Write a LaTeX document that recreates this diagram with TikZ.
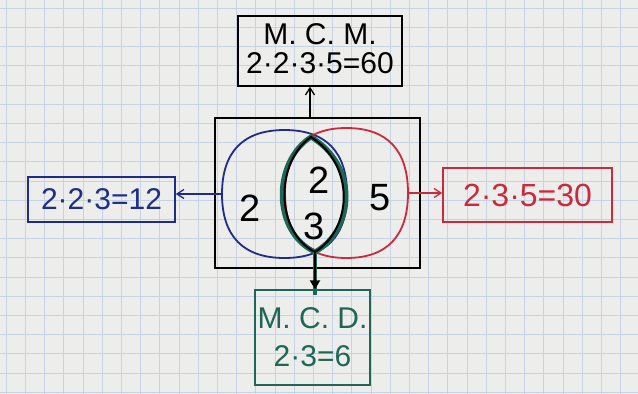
\documentclass[tikz,border=0pt]{standalone}
\usepackage{fontspec}
\setmainfont{Liberation Sans}
\usetikzlibrary{arrows.meta}
\definecolor{paper}{HTML}{EDEDEB}
\definecolor{gridc}{HTML}{C6D3E6}
\definecolor{setblue}{HTML}{1E2C8C}
\definecolor{setred}{HTML}{CC2A3C}
\definecolor{teal}{HTML}{1F6657}
\tikzset{
  box/.style={draw, line width=1.5pt, inner sep=0pt},
  setline/.style={line width=1.8pt},
  big/.style={font=\fontsize{38}{40}\selectfont},
  mid/.style={font=\fontsize{30}{32}\selectfont},
  conn/.style={line width=1.3pt, -{Straight Barb[length=7pt,width=9pt]}},
}
% squircle: #1 cx, #2 cy, #3 half width, #4 half height
\newcommand\squircle[4]{%
  (#1,#2-#4) .. controls (#1+0.66*#3,#2-#4) and (#1+#3,#2-0.66*#4) ..
  (#1+#3,#2) .. controls (#1+#3,#2+0.66*#4) and (#1+0.66*#3,#2+#4) ..
  (#1,#2+#4) .. controls (#1-0.66*#3,#2+#4) and (#1-#3,#2+0.66*#4) ..
  (#1-#3,#2) .. controls (#1-#3,#2-0.66*#4) and (#1-0.66*#3,#2-#4) .. cycle}
\begin{document}
\begin{tikzpicture}[x=1pt,y=-1pt]
\useasboundingbox (0,0) rectangle (638,394);
\fill[paper] (0,0) rectangle (638,394);
\draw[gridc, line width=0.6pt, step=19.2pt, shift={(6pt,-8pt)}] (-6,-10) grid (640,400);
% main frame
\node[box, minimum width=205pt, minimum height=150pt] (frame) at (317.5,193) {};
% sets
\draw[setline, setblue] \squircle{284.5}{194}{62.5}{64};
\draw[setline, setred] \squircle{346.5}{193}{61.5}{65};
\coordinate (lW) at (222,194);
\coordinate (rE) at (408,193);
% lens (intersection)
\coordinate (lensTop) at (311,137);
\coordinate (lensBot) at (315,252);
\draw[teal, line width=5pt] (lensTop) .. controls (358,165) and (356,228) .. (lensBot) .. controls (272,232) and (272,162) .. cycle;
\draw[black, line width=2pt, line join=round] (lensTop) .. controls (355,165) and (353,228) .. (lensBot) .. controls (275,232) and (275,162) .. cycle;
% numbers
\node[big] (n2) at (250,208) {2};
\node[big] (c2) at (319,180) {2};
\node[big] (c3) at (314,226) {3};
\node[big] (n5) at (380,198) {5};
% boxes
\node[box, minimum width=164pt, minimum height=70pt] (mcm) at (320,51) {};
\node[mid] (mcmA) at (320,34) {M. C. M.};
\node[mid] (mcmB) at (320,63) {2·2·3·5=60};
\node[box, setblue, minimum width=147pt, minimum height=45pt, mid, text=setblue] (b12) at (101.5,199.5) {2·2·3=12};
\node[box, setred, minimum width=169pt, minimum height=54pt, text=setred, font=\fontsize{32}{34}\selectfont] (b30) at (527.5,195) {2·3·5=30};
\node[box, teal, minimum width=115pt, minimum height=95pt, mid, text=teal, align=center] (mcd) at (312.5,337.5) {M. C. D.\\[6pt]2·3=6};
% connectors
\coordinate (topA) at (310,118);
\draw[conn] (topA) -- (topA |- mcm.south);
\draw[conn, setblue] (lW) -- (lW -| b12.east);
\draw[conn, setred] (rE) -- (rE -| b30.west);
\draw[teal, line width=4.5pt] (lensBot) -- ([yshift=-6pt]lensBot |- mcd.north);
\draw[line width=2.2pt, -{Triangle[length=9pt,width=10pt]}] (lensBot) -- (lensBot |- mcd.north);
\end{tikzpicture}
\end{document}
